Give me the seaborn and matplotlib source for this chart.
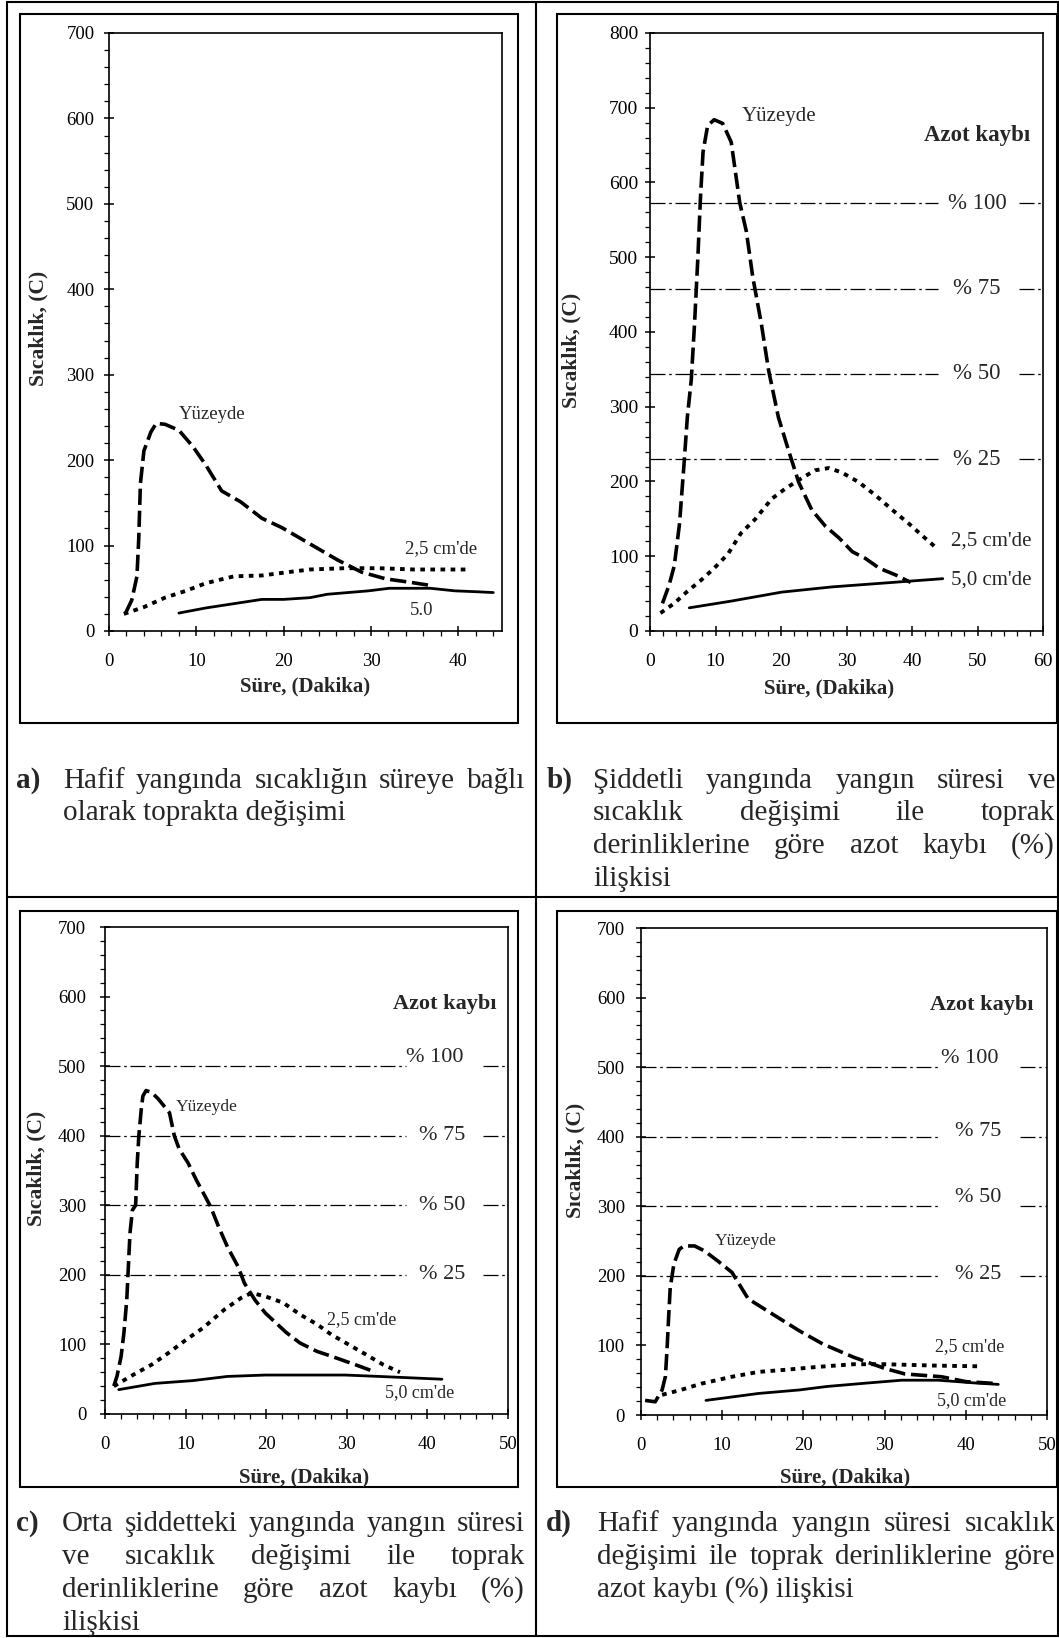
import matplotlib
matplotlib.use("Agg")
import matplotlib.pyplot as plt
import seaborn as sns
from matplotlib.lines import Line2D
from matplotlib.patches import Rectangle
from matplotlib.ticker import MultipleLocator

# ---- data ----
# a) hafif yangin
a_surf_x = [1.9, 2.6, 3.2, 3.4, 3.6, 4.0, 4.8, 5.4, 6.4, 8.0, 9.6, 11.1, 12.9, 15.1, 17.5, 19.8, 23.0, 26.2, 28.9, 31.7, 34.5, 37.0]
a_surf_y = [21, 36, 64, 107, 173, 211, 233, 243, 242, 235, 216, 194, 164, 151, 132, 121, 102, 83, 69, 61, 57, 53]
a_mid_x = [1.7, 4.0, 6.4, 8.8, 11.1, 14.3, 17.5, 20.6, 23.0, 27.0, 30.9, 34.9, 41.2]
a_mid_y = [20, 28, 39, 47, 56, 64, 65, 69, 72, 73.5, 73.5, 72, 72]
a_deep_x = [8.0, 11.1, 14.3, 17.5, 20.0, 23.0, 25.0, 29.7, 32.1, 36.8, 39.6, 42.0, 44.0]
a_deep_y = [21, 27, 32, 37, 37, 39, 43, 47, 50, 50, 47, 46, 45]

# b) siddetli yangin
b_surf_x = [1.9, 2.9, 3.7, 4.5, 5.2, 5.7, 6.3, 6.8, 7.3, 7.7, 8.1, 8.8, 9.8, 11.1, 12.4, 13.7, 14.7,
            15.7, 17.0, 18.1, 19.6, 21.1, 22.7, 24.7, 26.8, 28.8, 30.9, 32.9, 35.0, 37.5, 39.8]
b_surf_y = [37, 61, 87, 143, 224, 286, 336, 411, 498, 579, 641, 676, 684, 679, 654, 573, 535,
            473, 411, 349, 286, 243, 199, 162, 140, 125, 106, 97, 84, 75, 65]
b_mid_x = [1.6, 3.7, 5.7, 7.8, 9.8, 11.9, 13.9, 16.0, 18.6, 20.6, 22.7, 25.2, 27.3, 29.3, 31.9, 34.5, 37.0, 39.6, 41.9, 44.0]
b_mid_y = [24, 37, 53, 68, 84, 103, 131, 149, 177, 190, 202, 215, 218, 212, 199, 181, 162, 143, 125, 109]
b_deep_x = [6.0, 12.4, 20.1, 27.8, 35.5, 44.7]
b_deep_y = [31, 40, 52, 59, 64, 70]
b_azot = [572, 458, 344, 230]

# c) orta siddetteki yangin
c_surf_x = [1.1, 1.5, 2.0, 2.35, 2.7, 2.9, 3.1, 3.4, 3.8, 4.0, 4.2, 4.5, 4.7, 5.1, 5.8, 6.6, 8.0, 8.6, 9.2,
            10.3, 11.3, 12.6, 13.1, 14.1, 15.2, 16.5, 17.3, 18.6, 19.9, 21.2, 22.5, 24.2, 26.3, 28.1, 29.8, 31.5, 33.6]
c_surf_y = [40, 55, 83, 117, 164, 212, 260, 293, 300, 361, 400, 438, 457, 465, 462, 453, 433, 400, 381,
            361, 337, 309, 298, 269, 240, 212, 188, 164, 145, 131, 117, 102, 90, 83, 76, 69, 60]
c_mid_x = [1.1, 3.6, 5.8, 7.9, 10.1, 12.2, 14.8, 16.9, 18.2, 19.9, 22.1, 24.2, 26.3, 28.1, 30.2, 32.3, 34.5, 36.6]
c_mid_y = [40, 57, 71, 88, 107, 124, 150, 167, 174, 169, 160, 143, 129, 114, 100, 86, 71, 60]
c_deep_x = [1.7, 6.2, 10.9, 15.2, 19.9, 29.8, 34.0, 41.8]
c_deep_y = [35, 44, 48, 54, 56, 56, 54, 50]

# d) hafif yangin, azot kaybi
d_surf_x = [0.5, 1.75, 2.6, 3.0, 3.2, 3.4, 3.6, 4.05, 4.7, 5.3, 6.6, 7.8, 9.5, 11.2, 13.2, 16.2, 19.5,
            22.4, 26.2, 30.0, 32.5, 37.0, 40.0, 44.0]
d_surf_y = [21, 19, 36, 55, 93, 140, 183, 217, 238, 243, 243, 236, 221, 205, 167, 145, 121,
            102, 83, 67, 59, 55, 48, 45]
d_mid_x = [2.6, 4.9, 7.4, 11.2, 14.5, 17.8, 21.6, 26.2, 30.0, 36.2, 41.5]
d_mid_y = [29, 36, 45, 55, 62, 65, 69, 73, 73, 71, 70]
d_deep_x = [8.0, 14.5, 19.5, 22.9, 27.9, 32.1, 36.6, 41.2, 44.0]
d_deep_y = [21, 31, 36, 41, 46, 50, 50, 46, 44]

cd_azot = [500, 400, 300, 200]
azot_labels = ["% 100", "% 75", "% 50", "% 25"]

captions = {
    "a": ["Hafif yangında sıcaklığın süreye bağlı", "olarak toprakta değişimi"],
    "b": ["Şiddetli yangında yangın süresi ve", "sıcaklık değişimi ile toprak",
          "derinliklerine göre azot kaybı (%)", "ilişkisi"],
    "c": ["Orta şiddetteki yangında yangın süresi", "ve sıcaklık değişimi ile toprak",
          "derinliklerine göre azot kaybı (%)", "ilişkisi"],
    "d": ["Hafif yangında yangın süresi sıcaklık", "değişimi ile toprak derinliklerine göre",
          "azot kaybı (%) ilişkisi"],
}

# ---- style ----
sns.set_theme(style="ticks")
plt.rcParams["font.family"] = ["Liberation Serif", "DejaVu Serif"]
plt.rcParams["axes.edgecolor"] = "black"
plt.rcParams["xtick.color"] = "black"
plt.rcParams["ytick.color"] = "black"

W, H = 1059, 1638
fig = plt.figure(figsize=(W / 100, H / 100), dpi=100)


def fx(x):
    return x / W


def fy(y):
    return 1 - y / H


def add_axes(l, t, r, b):
    return fig.add_axes([l / W, 1 - b / H, (r - l) / W, (b - t) / H])


SURF = dict(color="black", linewidth=2.6, linestyle=(0, (4.5, 1.6)))
MID = dict(color="black", linewidth=2.8, linestyle=(0, (1.2, 1.4)))
DEEP = dict(color="black", linewidth=2.0, linestyle="-")
AZOT_LS = (0, (12, 3, 2, 3))


def setup(ax, xmax, ymax, ypad, tsize):
    ax.set_xlim(0, xmax)
    ax.set_ylim(0, ymax)
    ax.xaxis.set_major_locator(MultipleLocator(10))
    ax.xaxis.set_minor_locator(MultipleLocator(2))
    ax.yaxis.set_major_locator(MultipleLocator(100))
    ax.yaxis.set_minor_locator(MultipleLocator(20))
    ax.tick_params(which="major", direction="inout", length=7, width=1.1, labelsize=tsize)
    ax.tick_params(which="minor", direction="out", length=3.5, width=0.9)
    ax.tick_params(axis="x", which="major", pad=12)
    ax.tick_params(axis="y", which="major", pad=ypad)
    for s in ax.spines.values():
        s.set_visible(True)
        s.set_linewidth(1.2)
    ax.set_xlabel("")
    ax.set_ylabel("")
    ax.set_facecolor("white")


def series(ax, x, y, kw):
    sns.lineplot(x=x, y=y, ax=ax, sort=False, estimator=None, **kw)


def azot_lines(ax, levels, x_end, x_restart, xmax):
    ax.hlines(levels, 0, x_end, colors="black", linewidth=0.9, linestyles=[AZOT_LS])
    ax.hlines(levels, x_restart, xmax, colors="black", linewidth=0.9, linestyles=[AZOT_LS])


# ---- frame of the table ----
def hline(y, x0, x1, lw=1.5):
    fig.add_artist(Line2D([fx(x0), fx(x1)], [fy(y), fy(y)], color="black", lw=lw, transform=fig.transFigure))


def vline(x, y0, y1, lw=1.5):
    fig.add_artist(Line2D([fx(x), fx(x)], [fy(y0), fy(y1)], color="black", lw=lw, transform=fig.transFigure))


def box(l, t, r, b, lw=1.5):
    fig.add_artist(Rectangle((fx(l), fy(b)), (r - l) / W, (b - t) / H, fill=False,
                             edgecolor="black", lw=lw, transform=fig.transFigure))


box(7, 2, 1058, 1636)
vline(536, 2, 1636)
hline(897, 7, 1058)
box(20, 14, 518, 723)
box(557, 14, 1057, 723)
box(20, 911, 518, 1487)
box(557, 911, 1057, 1487)

# ---- panel a ----
ax = add_axes(109, 33, 502, 631)
series(ax, a_surf_x, a_surf_y, SURF)
series(ax, a_mid_x, a_mid_y, MID)
series(ax, a_deep_x, a_deep_y, DEEP)
setup(ax, 45, 700, 7, 13.5)
ax.text(8.0, 254, "Yüzeyde", fontsize=13.5, ha="left", va="center")
ax.text(33.9, 96, "2,5 cm'de", fontsize=13.5, ha="left", va="center")
ax.text(34.5, 24, "5.0", fontsize=13.5, ha="left", va="center")

# ---- panel b ----
ax = add_axes(650, 33, 1043, 631)
azot_lines(ax, b_azot, 43.9, 56.3, 60)
series(ax, b_surf_x, b_surf_y, SURF)
series(ax, b_mid_x, b_mid_y, MID)
series(ax, b_deep_x, b_deep_y, DEEP)
setup(ax, 60, 800, 5, 14)
ax.text(14.0, 688, "Yüzeyde", fontsize=15, ha="left", va="center")
ax.text(58.1, 663, "Azot kaybı", fontsize=16.5, fontweight="bold", ha="right", va="center")
for lev, lab, xl in zip(b_azot, azot_labels, [45.5, 46.3, 46.3, 46.3]):
    ax.text(xl, lev, lab, fontsize=16.5, ha="left", va="center")
ax.text(46.0, 121, "2,5 cm'de", fontsize=15, ha="left", va="center")
ax.text(46.0, 68, "5,0 cm'de", fontsize=15, ha="left", va="center")

# ---- panel c ----
ax = add_axes(105, 927, 508, 1414)
azot_lines(ax, cd_azot, 37.3, 46.9, 50)
series(ax, c_surf_x, c_surf_y, SURF)
series(ax, c_mid_x, c_mid_y, MID)
series(ax, c_deep_x, c_deep_y, DEEP)
setup(ax, 50, 700, 10, 13.5)
ax.text(8.8, 441, "Yüzeyde", fontsize=12.5, ha="left", va="center")
ax.text(48.6, 589, "Azot kaybı", fontsize=16, fontweight="bold", ha="right", va="center")
for lev, lab, xl, yo in zip(cd_azot, azot_labels, [37.3, 39, 39, 39], [12, 0, 0, 0]):
    ax.text(xl, lev + yo, lab, fontsize=16, ha="left", va="center")
ax.text(27.6, 136, "2,5 cm'de", fontsize=13, ha="left", va="center")
ax.text(34.7, 31, "5,0 cm'de", fontsize=13, ha="left", va="center")

# ---- panel d ----
ax = add_axes(641, 928, 1047, 1415)
azot_lines(ax, cd_azot, 36.7, 46.7, 50)
series(ax, d_surf_x, d_surf_y, SURF)
series(ax, d_mid_x, d_mid_y, MID)
series(ax, d_deep_x, d_deep_y, DEEP)
setup(ax, 50, 700, 8, 13.5)
ax.text(9.1, 250, "Yüzeyde", fontsize=12.5, ha="left", va="center")
ax.text(48.3, 589, "Azot kaybı", fontsize=16, fontweight="bold", ha="right", va="center")
for lev, lab, xl, yo in zip(cd_azot, azot_labels, [36.9, 38.7, 38.7, 38.7], [12, 8, 12, 2]):
    ax.text(xl, lev + yo, lab, fontsize=16, ha="left", va="center")
ax.text(36.2, 99, "2,5 cm'de", fontsize=13, ha="left", va="center")
ax.text(36.4, 21, "5,0 cm'de", fontsize=13, ha="left", va="center")

# ---- axis titles ----
for (x, y) in [(38, 328), (571, 350), (36, 1168), (575, 1160)]:
    fig.text(fx(x), fy(y), "Sıcaklık, (C)", rotation=90, fontsize=15.5, fontweight="bold",
             ha="center", va="center")
for (x, y) in [(305, 686), (829, 688), (304, 1477), (845, 1477)]:
    fig.text(fx(x), fy(y), "Süre, (Dakika)", fontsize=15, fontweight="bold", ha="center", va="center")

# ---- captions (justified like the original) ----
renderer = fig.canvas.get_renderer()
CAP = 21


def justified(line, x0, x1, y, last):
    words = line.split()
    if last:
        fig.text(fx(x0), fy(y), line, fontsize=CAP, ha="left", va="baseline")
        return
    texts = [fig.text(0, fy(y), w, fontsize=CAP, ha="left", va="baseline") for w in words]
    widths = [t.get_window_extent(renderer).width for t in texts]
    gap = (x1 - x0 - sum(widths)) / (len(words) - 1)
    x = x0
    for t, w in zip(texts, widths):
        t.set_x(fx(x))
        x += w + gap


layout = {
    "a": (16, 63, 525, [788, 820.5]),
    "b": (547, 593, 1055, [788, 820.5, 853, 885.5]),
    "c": (16, 62, 525, [1531, 1564, 1597, 1630]),
    "d": (546, 597, 1055, [1531, 1564, 1597]),
}
for key, (xl, x0, x1, ys) in layout.items():
    fig.text(fx(xl), fy(ys[0]), key + ")", fontsize=CAP, fontweight="bold", ha="left", va="baseline")
    lines = captions[key]
    for i, (line, y) in enumerate(zip(lines, ys)):
        justified(line, x0, x1, y, i == len(lines) - 1)

fig.savefig("out.png", dpi=100, facecolor="white")
